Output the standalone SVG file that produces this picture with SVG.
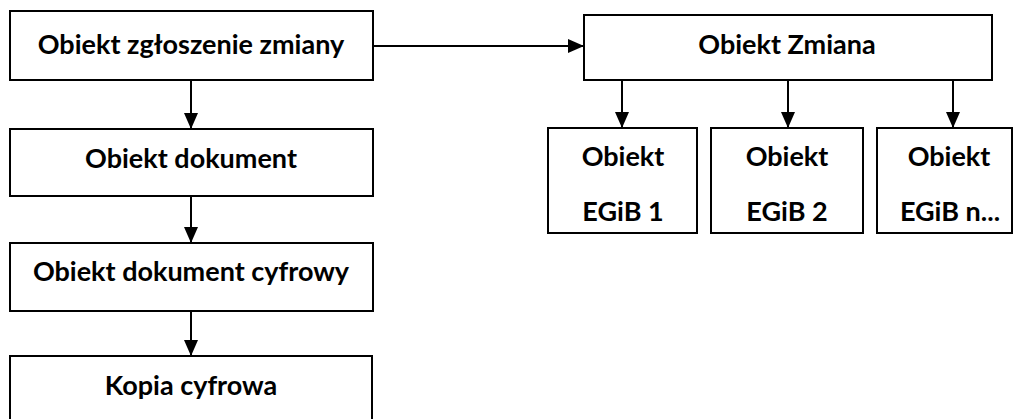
<svg xmlns="http://www.w3.org/2000/svg" width="1013" height="419" viewBox="0 0 1013 419">
<defs>
<style>
.box{fill:#fff;stroke:#000;stroke-width:2}
.lbl{font-family:Lato,"Liberation Sans",sans-serif;font-weight:bold;font-size:27px;fill:#000;text-anchor:middle}
.con{stroke:#000;stroke-width:2;fill:none}
</style>
<marker id="ah" viewBox="0 0 16 14" refX="16" refY="7" markerWidth="16" markerHeight="14" markerUnits="userSpaceOnUse" orient="auto">
<path d="M0,0 L16,7 L0,14 Z" fill="#000"/>
</marker>
</defs>
<rect width="1013" height="419" fill="#fff"/>
<g id="connectors">
<path class="con" d="M373,46 H584" marker-end="url(#ah)"/>
<path class="con" d="M191,80 V129" marker-end="url(#ah)"/>
<path class="con" d="M191,196 V243" marker-end="url(#ah)"/>
<path class="con" d="M191,311 V356" marker-end="url(#ah)"/>
<path class="con" d="M622,80 V128" marker-end="url(#ah)"/>
<path class="con" d="M788,80 V128" marker-end="url(#ah)"/>
<path class="con" d="M953,80 V128" marker-end="url(#ah)"/>
</g>
<g id="n-zgloszenie">
<rect class="box" x="10" y="11" width="363" height="69"/>
<text class="lbl" x="191" y="54">Obiekt zgłoszenie zmiany</text>
</g>
<g id="n-zmiana">
<rect class="box" x="584" y="15" width="408" height="65"/>
<text class="lbl" x="787" y="54">Obiekt Zmiana</text>
</g>
<g id="n-dokument">
<rect class="box" x="10" y="129" width="363" height="67"/>
<text class="lbl" x="191" y="168">Obiekt dokument</text>
</g>
<g id="n-dokument-cyfrowy">
<rect class="box" x="10" y="243" width="363" height="68"/>
<text class="lbl" x="191" y="281">Obiekt dokument cyfrowy</text>
</g>
<g id="n-kopia">
<rect class="box" x="10" y="356" width="362" height="80"/>
<text class="lbl" x="191" y="395">Kopia cyfrowa</text>
</g>
<g id="n-egib1">
<rect class="box" x="548" y="128" width="149" height="105"/>
<text class="lbl" x="623" y="166">Obiekt</text>
<text class="lbl" x="623" y="221">EGiB 1</text>
</g>
<g id="n-egib2">
<rect class="box" x="711" y="128" width="152" height="105"/>
<text class="lbl" x="787" y="166">Obiekt</text>
<text class="lbl" x="787" y="221">EGiB 2</text>
</g>
<g id="n-egibn">
<rect class="box" x="877" y="128" width="135" height="105"/>
<text class="lbl" x="949" y="166">Obiekt</text>
<text class="lbl" x="950" y="221">EGiB n...</text>
</g>
</svg>
